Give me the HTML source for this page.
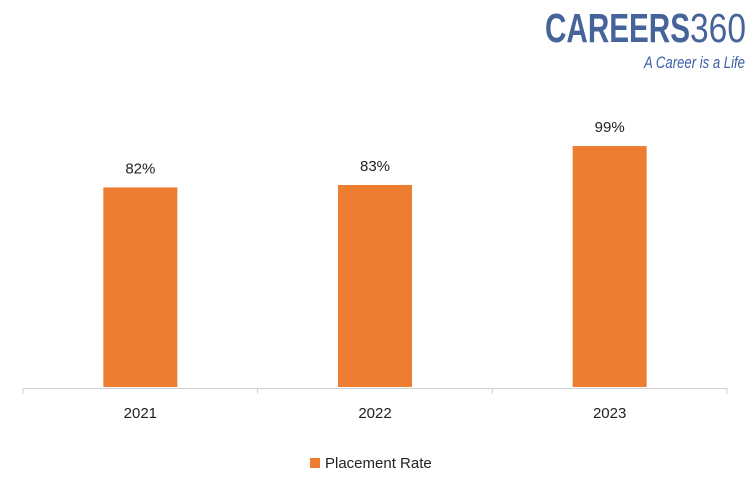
<!DOCTYPE html>
<html><head><meta charset="utf-8"><style>
body{margin:0;background:#fff;font-family:"Liberation Sans",sans-serif;}
svg text{font-family:"Liberation Sans",sans-serif;}
</style></head><body>
<svg width="750" height="493">
<g>
<text x="545" y="42" font-size="41" font-weight="bold" fill="#47649a" textLength="145" lengthAdjust="spacingAndGlyphs">CAREERS</text>
<text x="690" y="42" font-size="41" fill="#47649a" textLength="56" lengthAdjust="spacingAndGlyphs">360</text>
<text x="745" y="68" font-size="17" font-style="italic" fill="#3a5ea8" text-anchor="end" textLength="101" lengthAdjust="spacingAndGlyphs">A Career is a Life</text>
</g>
<g id="plot"></g>
<g>
<rect x="310" y="458" width="10" height="10" fill="#ed7d31"/>
<text x="325" y="468" font-size="15" fill="#222">Placement Rate</text>
</g>
</svg>
<script>
const categories=["2021","2022","2023"];
const values=[82,83,99];
const valueLabels=["82%","83%","99%"];
const ns="http://www.w3.org/2000/svg";
const g=document.getElementById('plot');
const x0=23,x1=727,base=387,scale=2.434;
const band=(x1-x0)/categories.length;
const y=v=>base-v*scale;
function mk(t,a){const e=document.createElementNS(ns,t);for(const k in a)e.setAttribute(k,a[k]);g.appendChild(e);return e;}
const ax=mk('line',{x1:x0,x2:x1,y1:388.5,y2:388.5,stroke:'#d0d0d0','stroke-width':1});


for(let i=0;i<=categories.length;i++){
const t=mk('line',{x1:x0+i*band,x2:x0+i*band,y1:388,y2:394,stroke:'#d0d0d0'});


}
categories.forEach((c,i)=>{
const cx=x0+band*(i+0.5),w=74;
const r=mk('rect',{x:cx-w/2,y:y(values[i]),width:w,height:base-y(values[i]),fill:'#ed7d31'});


const l=mk('text',{x:cx,y:y(values[i])-14,'font-size':15,fill:'#222','text-anchor':'middle'});
l.textContent=valueLabels[i];


const tl=mk('text',{x:cx,y:418,'font-size':15,fill:'#222','text-anchor':'middle'});
tl.textContent=c;


});
</script>
</body></html>
